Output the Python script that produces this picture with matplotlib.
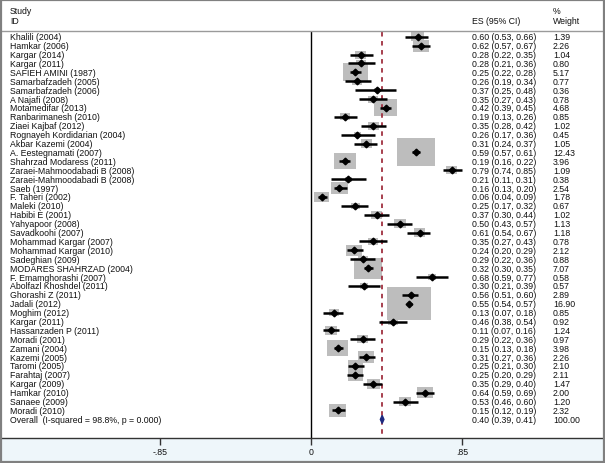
# Forest plot of pooled prevalence (ES with 95% CI) and study weights
import numpy as np
import matplotlib.pyplot as plt
from matplotlib.patches import Rectangle, Polygon

plt.rcParams['font.family'] = ['Liberation Sans', 'DejaVu Sans']

# study labels
studies = ["Khalili (2004)", "Hamkar (2006)", "Kargar (2014)", "Kargar (2011)",
           "SAFIEH AMINI (1987)", "Samarbafzadeh (2005)", "Samarbafzadeh (2006)",
           "A Najafi (2008)", "Motamedifar (2013)", "Ranbarimanesh (2010)",
           "Ziaei Kajbaf (2012)", "Rognayeh Kordidarian (2004)", "Akbar Kazemi (2004)",
           "A. Eestegnamati (2007)", "Shahrzad Modaress (2011)",
           "Zaraei-Mahmoodabadi B (2008)", "Zaraei-Mahmoodabadi B (2008)",
           "Saeb (1997)", "F. Taheri (2002)", "Maleki (2010)", "Habibi E (2001)",
           "Yahyapoor (2008)", "Savadkoohi (2007)", "Mohammad Kargar (2007)",
           "Mohammad Kargar (2010)", "Sadeghian (2009)", "MODARES SHAHRZAD (2004)",
           "F. Emamghorashi (2007)", "Abolfazl Khoshdel (2011)", "Ghorashi Z (2011)",
           "Jadali (2012)", "Moghim (2012)", "Kargar (2011)", "Hassanzaden P (2011)",
           "Moradi (2001)", "Zamani (2004)", "Kazemi (2005)", "Taromi (2005)",
           "Farahtaj (2007)", "Kargar (2009)", "Hamkar (2010)", "Sanaee (2009)",
           "Moradi (2010)"]

# effect sizes and confidence limits
es = [0.60, 0.62, 0.28, 0.28, 0.25, 0.26, 0.37, 0.35, 0.42, 0.19, 0.35, 0.26, 0.31,
      0.59, 0.19, 0.79, 0.21, 0.16, 0.06, 0.25, 0.37, 0.50, 0.61, 0.35, 0.24, 0.29,
      0.32, 0.68, 0.30, 0.56, 0.55, 0.13, 0.46, 0.11, 0.29, 0.15, 0.31, 0.25, 0.25,
      0.35, 0.64, 0.53, 0.15]
lo = [0.53, 0.57, 0.22, 0.21, 0.22, 0.19, 0.25, 0.27, 0.39, 0.13, 0.28, 0.17, 0.24,
      0.57, 0.16, 0.74, 0.11, 0.13, 0.04, 0.17, 0.30, 0.43, 0.54, 0.27, 0.20, 0.22,
      0.30, 0.59, 0.21, 0.51, 0.54, 0.07, 0.38, 0.07, 0.22, 0.13, 0.27, 0.21, 0.20,
      0.29, 0.59, 0.46, 0.12]
hi = [0.66, 0.67, 0.35, 0.36, 0.28, 0.34, 0.48, 0.43, 0.45, 0.26, 0.42, 0.36, 0.37,
      0.61, 0.22, 0.85, 0.31, 0.20, 0.09, 0.32, 0.44, 0.57, 0.67, 0.43, 0.29, 0.36,
      0.35, 0.77, 0.39, 0.60, 0.57, 0.18, 0.54, 0.16, 0.36, 0.18, 0.36, 0.30, 0.29,
      0.40, 0.69, 0.60, 0.19]
weights = [1.39, 2.26, 1.04, 0.80, 5.17, 0.77, 0.36, 0.78, 4.68, 0.85, 1.02, 0.45,
           1.05, 12.43, 3.96, 1.09, 0.38, 2.54, 1.78, 0.67, 1.02, 1.13, 1.18, 0.78,
           2.12, 0.88, 7.07, 0.58, 0.57, 2.89, 16.90, 0.85, 0.92, 1.24, 0.97, 3.98,
           2.26, 2.10, 2.11, 1.47, 2.00, 1.20, 2.32]

# pooled estimate
overall_label = "Overall  (I-squared = 98.8%, p = 0.000)"
overall_es, overall_lo, overall_hi = 0.40, 0.39, 0.41

xticks = [-0.85, 0, 0.85]
xtick_labels = ["-.85", "0", ".85"]

fig = plt.figure(figsize=(6.05, 4.64), dpi=100)
ax = fig.add_axes([0, 0, 1, 1])
ax.set_xlim(-1.747, 1.652)
ax.set_ylim(47.9, -4.24)
ax.axis('off')

tr = ax.get_yaxis_transform()
fs = 6.3
tc = '#111111'

n = len(studies)
rows = np.arange(n)
overall_row = n
top_row = -0.55
axis_row = 45.1

# pale band below the axis
ax.add_patch(Rectangle((0, axis_row), 1, 48 - axis_row, transform=tr,
                       facecolor='#eef6fa', edgecolor='none', zorder=0))

# boxes sized by weight
for r, e, w in zip(rows, es, weights):
    bw = 10.8 * np.sqrt(w) / 178
    bh = 7.9 * np.sqrt(w) / 8.9
    ax.add_patch(Rectangle((e - bw / 2, r - bh / 2), bw, bh,
                           facecolor='#bdbdbd', edgecolor='none', zorder=1))

# reference lines
ax.vlines(0, top_row - 0.1, axis_row, color='black', lw=1.0, zorder=2)
ax.vlines(overall_es, top_row, axis_row, color='#a03040', lw=1.3,
          linestyles=(0, (2.5, 2.5)), zorder=2)

# confidence intervals and point estimates
ax.hlines(rows, lo, hi, color='black', lw=1.8, zorder=3)
ax.plot(es, rows, 'D', color='black', ms=3.4, zorder=4)

# overall diamond
ax.add_patch(Polygon([(overall_lo, overall_row), (overall_es, overall_row - 0.45),
                      (overall_hi, overall_row), (overall_es, overall_row + 0.45)],
                     closed=True, facecolor='#1f2a80', edgecolor='#1f2a80', zorder=4))

# text columns
for r, s, e, l, h, w in zip(rows, studies, es, lo, hi, weights):
    ax.text(10 / 605, r, s, transform=tr, fontsize=fs, va='center', color=tc)
    ax.text(472 / 605, r, f"{e:.2f} ({l:.2f}, {h:.2f})", transform=tr,
            fontsize=fs, va='center', color=tc)
    ax.text(553 / 605, r, f"{w:.2f}", transform=tr, fontsize=fs, va='center', color=tc)
ax.text(10 / 605, overall_row, overall_label, transform=tr, fontsize=fs,
        va='center', color=tc)
ax.text(472 / 605, overall_row,
        f"{overall_es:.2f} ({overall_lo:.2f}, {overall_hi:.2f})", transform=tr,
        fontsize=fs, va='center', color=tc)
ax.text(553 / 605, overall_row, "100.00", transform=tr, fontsize=fs,
        va='center', color=tc)

# header
ax.text(10 / 605, -2.9, "Study", transform=tr, fontsize=fs, va='center', color=tc)
ax.text(10 / 605, -1.8, "ID", transform=tr, fontsize=fs, va='center', color=tc)
ax.text(472 / 605, -1.8, "ES (95% CI)", transform=tr, fontsize=fs, va='center', color=tc)
ax.text(553 / 605, -2.9, "%", transform=tr, fontsize=fs, va='center', color=tc)
ax.text(553 / 605, -1.8, "Weight", transform=tr, fontsize=fs, va='center', color=tc)
ax.axhline(top_row - 0.1, color='#9a9a9a', lw=1.0, zorder=2)

# x axis
ax.axhline(axis_row, color='#333333', lw=1.0, zorder=2)
ax.vlines(xticks, axis_row, axis_row + 0.8, color='#333333', lw=1.0)
for t, lab in zip(xticks, xtick_labels):
    ax.text(t, axis_row + 1.5, lab, fontsize=fs, ha='center', va='center', color=tc)

# outer frame
fig.add_artist(Rectangle((0.002, 0.002), 0.996, 0.996, transform=fig.transFigure,
                         fill=False, edgecolor='#808080', lw=1.6))

plt.savefig('out.png', dpi=100)
